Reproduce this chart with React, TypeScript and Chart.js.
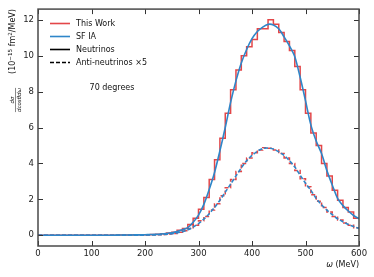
import React, { useEffect, useRef } from "react";
import { Chart, registerables } from "chart.js";

Chart.register(...registerables);

// bin edges / grid (MeV)
const omegaGrid = [
  0, 10, 20, 30, 40, 50, 60, 70, 80, 90, 100, 110, 120, 130, 140, 150, 160, 170, 180, 190,
  200, 210, 220, 230, 240, 250, 260, 270, 280, 290, 300, 310, 320, 330, 340, 350, 360, 370, 380, 390,
  400, 410, 420, 430, 440, 450, 460, 470, 480, 490, 500, 510, 520, 530, 540, 550, 560, 570, 580, 590, 600,
];

// SF IA, neutrinos (smooth, at grid points)
const sfNeutrino = [
  0, 0, 0, 0, 0, 0, 0, 0, 0, 0, 0, 0, 0, 0, 0, 0.01, 0.01, 0.01, 0.02, 0.02,
  0.03, 0.04, 0.05, 0.07, 0.1, 0.14, 0.2, 0.3, 0.42, 0.72, 1.12, 1.72, 2.55, 3.5, 4.7, 6.0, 7.4, 8.6, 9.6, 10.35,
  10.95, 11.35, 11.6, 11.75, 11.72, 11.5, 11.05, 10.55, 9.95, 8.8, 7.5, 6.15, 5.25, 4.55, 3.6, 2.8, 2.05, 1.65, 1.35, 1.1, 0.92,
];

// SF IA, anti-neutrinos x5 (smooth, at grid points)
const sfAntiNeutrino = [
  0, 0, 0, 0, 0, 0, 0, 0, 0, 0, 0, 0, 0, 0, 0, 0, 0, 0, 0, 0,
  0.01, 0.015, 0.02, 0.035, 0.055, 0.085, 0.13, 0.2, 0.3, 0.45, 0.65, 0.9, 1.2, 1.55, 1.95, 2.4, 2.85, 3.3, 3.75, 4.15,
  4.45, 4.68, 4.83, 4.86, 4.8, 4.65, 4.45, 4.15, 3.8, 3.35, 2.9, 2.5, 2.05, 1.7, 1.4, 1.15, 0.92, 0.75, 0.6, 0.48, 0.38,
];

// This Work, neutrinos (histogram, one value per 10 MeV bin)
const histNeutrino = [
  0, 0, 0, 0, 0, 0, 0, 0, 0, 0, 0, 0, 0, 0, 0, 0.01, 0.01, 0.01, 0.02, 0.02,
  0.03, 0.04, 0.06, 0.08, 0.12, 0.17, 0.28, 0.38, 0.6, 0.95, 1.45, 2.1, 3.1, 4.2, 5.4, 6.8, 8.1, 9.2, 10.0, 10.5,
  10.9, 11.5, 11.5, 12.0, 11.75, 11.3, 10.8, 10.3, 9.4, 8.1, 6.8, 5.7, 5.0, 4.0, 3.3, 2.5, 1.95, 1.55, 1.3, 0.95,
];

// This Work, anti-neutrinos x5 (histogram)
const histAntiNeutrino = [
  0, 0, 0, 0, 0, 0, 0, 0, 0, 0, 0, 0, 0, 0, 0, 0, 0, 0, 0, 0,
  0.01, 0.02, 0.03, 0.04, 0.07, 0.1, 0.17, 0.25, 0.38, 0.55, 0.8, 1.05, 1.4, 1.75, 2.2, 2.65, 3.1, 3.55, 4.0, 4.3,
  4.6, 4.75, 4.88, 4.85, 4.75, 4.55, 4.3, 4.0, 3.6, 3.15, 2.7, 2.25, 1.9, 1.55, 1.3, 1.05, 0.85, 0.68, 0.55, 0.42,
];

const xTicks = [0, 100, 200, 300, 400, 500, 600];
const yTicks = [0, 2, 4, 6, 8, 10, 12];

const legendLabels = ["This Work", "SF IA", "Neutrinos", "Anti-neutrinos \u00d75"];
const annotation = "70 degrees";

const RED = "rgba(222,38,40,0.85)";
const BLUE = "#2e86c9";
const FONT = "'DejaVu Sans', sans-serif";

function smoothPts(vals: number[]) {
  return omegaGrid.map((x, i) => ({ x, y: vals[i] }));
}
function histPts(vals: number[]) {
  const pts = vals.map((v, i) => ({ x: omegaGrid[i], y: v }));
  pts.push({ x: omegaGrid[vals.length], y: vals[vals.length - 1] });
  return pts;
}

const decorPlugin = {
  id: "decor",
  afterDraw(chart: any) {
    const { ctx, chartArea: a, scales } = chart;
    const x = scales.x;
    const y = scales.y;
    ctx.save();
    // ticks (inward, all sides)
    ctx.strokeStyle = "#333";
    ctx.lineWidth = 1;
    ctx.beginPath();
    xTicks.forEach((v) => {
      const px = Math.round(x.getPixelForValue(v)) + 0.5;
      ctx.moveTo(px, a.bottom);
      ctx.lineTo(px, a.bottom - 5);
      ctx.moveTo(px, a.top);
      ctx.lineTo(px, a.top + 5);
    });
    yTicks.forEach((v) => {
      const py = Math.round(y.getPixelForValue(v)) + 0.5;
      ctx.moveTo(a.left, py);
      ctx.lineTo(a.left + 5, py);
      ctx.moveTo(a.right, py);
      ctx.lineTo(a.right - 5, py);
    });
    ctx.stroke();
    // frame
    ctx.strokeStyle = "#4a4a4a";
    ctx.lineWidth = 1.5;
    ctx.strokeRect(a.left, a.top, a.right - a.left, a.bottom - a.top);

    // legend
    const lx0 = a.left + 12;
    const lx1 = a.left + 32;
    const ly = [23.5, 36.5, 49.5, 62.5];
    const styles = [
      { c: RED, d: [] as number[] },
      { c: BLUE, d: [] as number[] },
      { c: "#000", d: [] as number[] },
      { c: "#000", d: [4, 2] },
    ];
    ctx.font = `8px ${FONT}`;
    ctx.textBaseline = "middle";
    ctx.textAlign = "left";
    styles.forEach((s, i) => {
      ctx.beginPath();
      ctx.strokeStyle = s.c;
      ctx.lineWidth = 1.6;
      ctx.setLineDash(s.d);
      ctx.moveTo(lx0, ly[i]);
      ctx.lineTo(lx1, ly[i]);
      ctx.stroke();
      ctx.setLineDash([]);
      ctx.fillStyle = "#111";
      ctx.fillText(legendLabels[i], lx1 + 6, ly[i] + 0.5);
    });
    ctx.textAlign = "center";
    ctx.fillText(annotation, a.left + 74, 87.5);

    // x label
    ctx.textAlign = "right";
    ctx.font = `8px ${FONT}`;
    const unit = " (MeV)";
    const uw = ctx.measureText(unit).width;
    ctx.fillText(unit, a.right, 265);
    ctx.font = `italic 8px ${FONT}`;
    ctx.fillText("\u03c9", a.right - uw, 265);

    // y label: units
    ctx.save();
    ctx.translate(12, 41.5);
    ctx.rotate(-Math.PI / 2);
    const parts: [string, boolean][] = [
      ["(10", false],
      ["\u221215", true],
      [" fm", false],
      ["2", true],
      ["/MeV)", false],
    ];
    const widths = parts.map(([t, sup]) => {
      ctx.font = sup ? `5.6px ${FONT}` : `8px ${FONT}`;
      return ctx.measureText(t).width;
    });
    const total = widths.reduce((s, w) => s + w, 0);
    let cx = -total / 2;
    ctx.textAlign = "left";
    ctx.textBaseline = "alphabetic";
    parts.forEach(([t, sup], i) => {
      ctx.font = sup ? `5.6px ${FONT}` : `8px ${FONT}`;
      ctx.fillText(t, cx, sup ? -0.5 : 3);
      cx += widths[i];
    });
    ctx.restore();

    // y label: fraction
    ctx.save();
    ctx.translate(15.5, 100);
    ctx.rotate(-Math.PI / 2);
    ctx.font = `italic 5.5px ${FONT}`;
    ctx.textAlign = "center";
    ctx.textBaseline = "alphabetic";
    ctx.fillStyle = "#111";
    ctx.fillText("d\u03c3", 0, -1.2);
    const den = "dcos\u03b8d\u03c9";
    const dw = ctx.measureText(den).width;
    ctx.fillText(den, 0, 5.2);
    ctx.beginPath();
    ctx.strokeStyle = "#111";
    ctx.lineWidth = 0.5;
    ctx.moveTo(-dw / 2, 0);
    ctx.lineTo(dw / 2, 0);
    ctx.stroke();
    ctx.restore();

    ctx.restore();
  },
};

export default function App() {
  const ref = useRef<HTMLCanvasElement>(null);
  useEffect(() => {
    document.body.style.margin = "0";
    const canvas = ref.current!;
    const chart = new Chart(canvas, {
      type: "line",
      data: {
        datasets: [
          {
            label: "SF IA neutrinos",
            data: smoothPts(sfNeutrino),
            borderColor: BLUE,
            borderWidth: 1.6,
            pointRadius: 0,
            tension: 0.3,
          },
          {
            label: "SF IA anti-neutrinos",
            data: smoothPts(sfAntiNeutrino),
            borderColor: BLUE,
            borderWidth: 1.6,
            borderDash: [4, 2],
            pointRadius: 0,
            tension: 0.3,
          },
          {
            label: "This Work neutrinos",
            data: histPts(histNeutrino),
            borderColor: RED,
            borderWidth: 1.5,
            pointRadius: 0,
            stepped: "before",
          },
          {
            label: "This Work anti-neutrinos",
            data: histPts(histAntiNeutrino),
            borderColor: RED,
            borderWidth: 1.5,
            borderDash: [4, 2],
            pointRadius: 0,
            stepped: "before",
          },
        ],
      },
      options: {
        animation: false,
        responsive: false,
        events: [],
        layout: { padding: { top: 6, right: 15, left: 0, bottom: 0 } },
        plugins: { legend: { display: false }, tooltip: { enabled: false } },
        scales: {
          x: {
            type: "linear",
            min: 0,
            max: 600,
            grid: { display: false, drawTicks: false },
            border: { display: false },
            afterBuildTicks: (s: any) => {
              s.ticks = xTicks.map((v) => ({ value: v }));
            },
            afterFit: (s: any) => {
              s.height = 31;
            },
            ticks: {
              padding: 3,
              color: "#222",
              font: { family: FONT, size: 8.5 },
              maxRotation: 0,
              autoSkip: false,
            },
          },
          y: {
            type: "linear",
            min: -0.6,
            max: 12.6,
            grid: { display: false, drawTicks: false },
            border: { display: false },
            afterBuildTicks: (s: any) => {
              s.ticks = yTicks.map((v) => ({ value: v }));
            },
            afterFit: (s: any) => {
              s.width = 38;
            },
            ticks: {
              padding: 4,
              color: "#222",
              font: { family: FONT, size: 8.5 },
              autoSkip: false,
            },
          },
        },
      },
      plugins: [decorPlugin],
    } as any);
    return () => chart.destroy();
  }, []);
  return (
    <canvas
      ref={ref}
      width={374}
      height={277}
      style={{ display: "block", width: 374, height: 277 }}
    />
  );
}
